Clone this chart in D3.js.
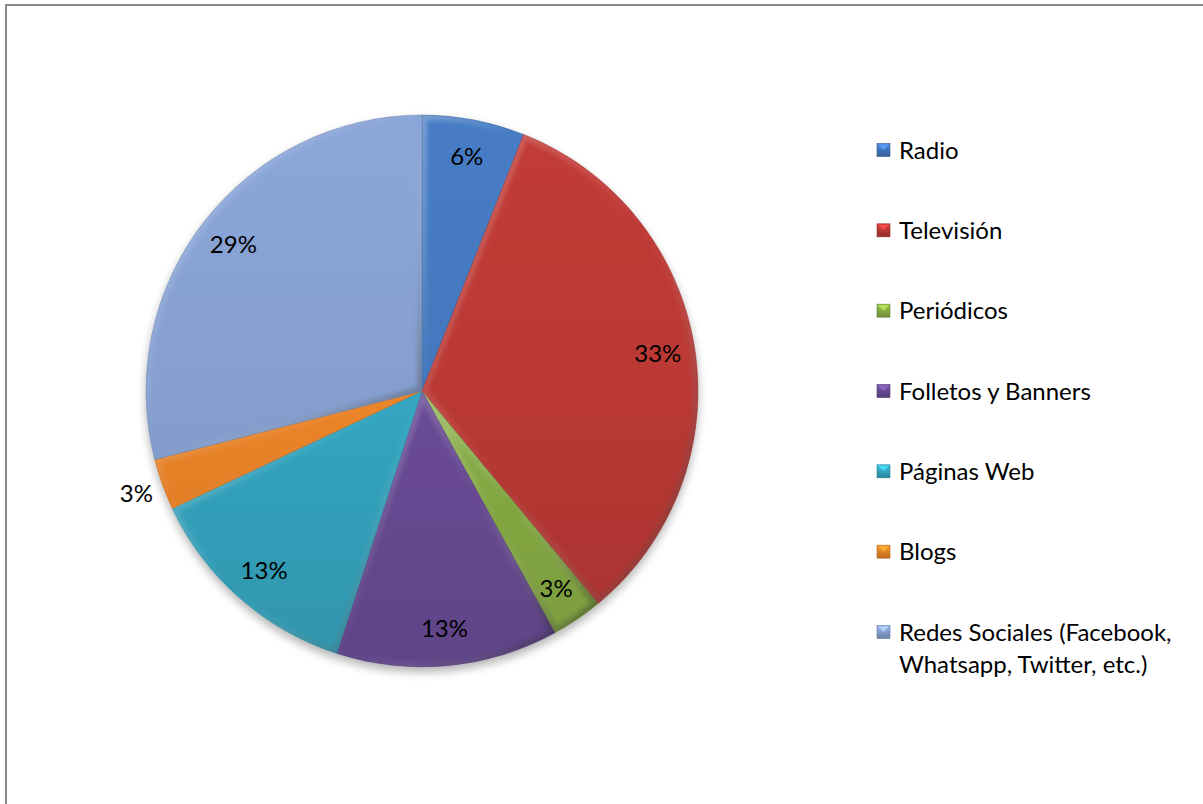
<!DOCTYPE html>
<html>
<head>
<meta charset="utf-8">
<script src="https://cdn.jsdelivr.net/npm/d3@7"></script>
<style>
  body { margin: 0; background: #fff; }
  svg { display: block; }
  text { font-family: Lato, "Open Sans", sans-serif; fill: #000; }
</style>
</head>
<body>
<svg id="chart" width="1203" height="804"></svg>
<script>
// Media channels and their share (%)
const categories = [
  "Radio",
  "Televisión",
  "Periódicos",
  "Folletos y Banners",
  "Páginas Web",
  "Blogs",
  "Redes Sociales (Facebook, Whatsapp, Twitter, etc.)"
];
const percentages = [6, 33, 3, 13, 13, 3, 29];
const sliceColors = ["#4377BD", "#BA3935", "#88AD45", "#6A4C96", "#34A6C1", "#EC8529", "#859FD0"];
// Slices whose label sits outside the pie
const outsideLabels = ["Blogs"];

const W = 1203, H = 804;
const cx = 422, cy = 391, R = 276;
const fontSize = 24;

const svg = d3.select("#chart");
const defs = svg.append("defs");

// Frame
svg.append("rect")
  .attr("x", 6).attr("y", 5)
  .attr("width", W + 20).attr("height", H + 20)
  .attr("fill", "#fff")
  .attr("stroke", "#8a8a8a").attr("stroke-width", 2);

const data = categories.map((c, i) => ({ name: c, value: percentages[i], color: sliceColors[i] }));
const color = d3.scaleOrdinal().domain(categories).range(sliceColors);

// Soft shadow under the pie
const shadow = defs.append("filter").attr("id", "pieShadow")
  .attr("x", "-10%").attr("y", "-10%").attr("width", "120%").attr("height", "125%");
shadow.append("feGaussianBlur").attr("in", "SourceAlpha").attr("stdDeviation", 5).attr("result", "b");
shadow.append("feOffset").attr("in", "b").attr("dx", 0).attr("dy", 5).attr("result", "o");
shadow.append("feComponentTransfer").attr("in", "o").attr("result", "s")
  .append("feFuncA").attr("type", "linear").attr("slope", 0.3);
const merge = shadow.append("feMerge");
merge.append("feMergeNode").attr("in", "s");
merge.append("feMergeNode").attr("in", "SourceGraphic");

const blur = defs.append("filter").attr("id", "soft");
blur.append("feGaussianBlur").attr("stdDeviation", 2);

// Per-slice vertical shading (coordinates relative to the pie centre)
data.forEach((d, i) => {
  const g = defs.append("linearGradient").attr("id", "fill" + i)
    .attr("gradientUnits", "userSpaceOnUse")
    .attr("x1", 0).attr("y1", -R).attr("x2", 0).attr("y2", R);
  const c = d3.color(d.color);
  g.append("stop").attr("offset", "0%").attr("stop-color", c.brighter(0.12));
  g.append("stop").attr("offset", "50%").attr("stop-color", c);
  g.append("stop").attr("offset", "100%").attr("stop-color", c.darker(0.3));
});

// Bevel edge: faint light toward upper-left, dark toward lower-right
const bevel = defs.append("linearGradient").attr("id", "bevel")
  .attr("x1", "0%").attr("y1", "0%").attr("x2", "100%").attr("y2", "100%");
bevel.append("stop").attr("offset", "0%").attr("stop-color", "#fff").attr("stop-opacity", 0.28);
bevel.append("stop").attr("offset", "50%").attr("stop-color", "#fff").attr("stop-opacity", 0.0);
bevel.append("stop").attr("offset", "100%").attr("stop-color", "#000").attr("stop-opacity", 0.4);

const pie = d3.pie().sort(null).value(d => d.value);
const arcs = pie(data);
const arc = d3.arc().innerRadius(0).outerRadius(R);
const labelArc = d3.arc().innerRadius(R * 0.865).outerRadius(R * 0.865);
const outerLabelArc = d3.arc().innerRadius(R * 1.1).outerRadius(R * 1.1);

const pieG = svg.append("g").attr("transform", `translate(${cx},${cy})`);
const slicesG = pieG.append("g").attr("filter", "url(#pieShadow)");

arcs.forEach((a, i) => {
  defs.append("clipPath").attr("id", "clip" + i)
    .append("path").attr("d", arc(a));
});

const slice = slicesG.selectAll("g.slice").data(arcs).join("g").attr("class", "slice");
slice.append("path")
  .attr("d", arc)
  .attr("fill", (d, i) => `url(#fill${i})`);

slice.append("g")
  .attr("clip-path", (d, i) => `url(#clip${i})`)
  .append("path")
  .attr("d", arc)
  .attr("fill", "none")
  .attr("stroke", "url(#bevel)")
  .attr("stroke-width", 10)
  .attr("filter", "url(#soft)");

slice.append("path")
  .attr("d", arc)
  .attr("fill", "none")
  .attr("stroke", d => d3.color(d.data.color).darker(0.8))
  .attr("stroke-opacity", 0.5)
  .attr("stroke-width", 0.8);

// Percentage labels
pieG.selectAll("text.pct").data(arcs).join("text")
  .attr("class", "pct")
  .attr("transform", d => `translate(${(outsideLabels.includes(d.data.name) ? outerLabelArc : labelArc).centroid(d)})`)
  .attr("text-anchor", "middle")
  .attr("dy", "0.36em")
  .style("font-size", fontSize + "px")
  .text(d => d3.format(".0f")(d.data.value) + "%");

// Legend
const legendY = d3.scalePoint().domain(categories).range([150, 632]);
const legend = svg.append("g").selectAll("g").data(categories).join("g")
  .attr("transform", d => `translate(877,${legendY(d)})`);

categories.forEach((c, i) => {
  const g = defs.append("linearGradient").attr("id", "key" + i)
    .attr("x1", "0%").attr("y1", "0%").attr("x2", "0%").attr("y2", "100%");
  const col = d3.color(color(c));
  g.append("stop").attr("offset", "0%").attr("stop-color", col.brighter(0.4));
  g.append("stop").attr("offset", "100%").attr("stop-color", col.darker(0.6));
});

legend.append("rect")
  .attr("x", 0).attr("y", -6.5).attr("width", 13).attr("height", 13)
  .attr("fill", (d, i) => `url(#key${i})`)
  .attr("stroke", d => d3.color(color(d)).darker(0.8))
  .attr("stroke-width", 0.6);
legend.append("path")
  .attr("d", "M1,-5.5 L12,-5.5 L6.5,0 Z")
  .attr("fill", d => d3.color(color(d)).brighter(0.9))
  .attr("opacity", 0.8);

legend.append("text")
  .attr("x", 22)
  .attr("y", 8.5)
  .style("font-size", fontSize + "px")
  .each(function (d) {
    const t = d3.select(this);
    const words = d.split(" ");
    let line = [];
    let tspan = t.append("tspan").attr("x", 22).attr("dy", 0);
    words.forEach(w => {
      line.push(w);
      tspan.text(line.join(" "));
      if (tspan.node().getComputedTextLength() > 300 && line.length > 1) {
        line.pop();
        tspan.text(line.join(" "));
        line = [w];
        tspan = t.append("tspan").attr("x", 22).attr("dy", 32).text(w);
      }
    });
  });
</script>
</body>
</html>
